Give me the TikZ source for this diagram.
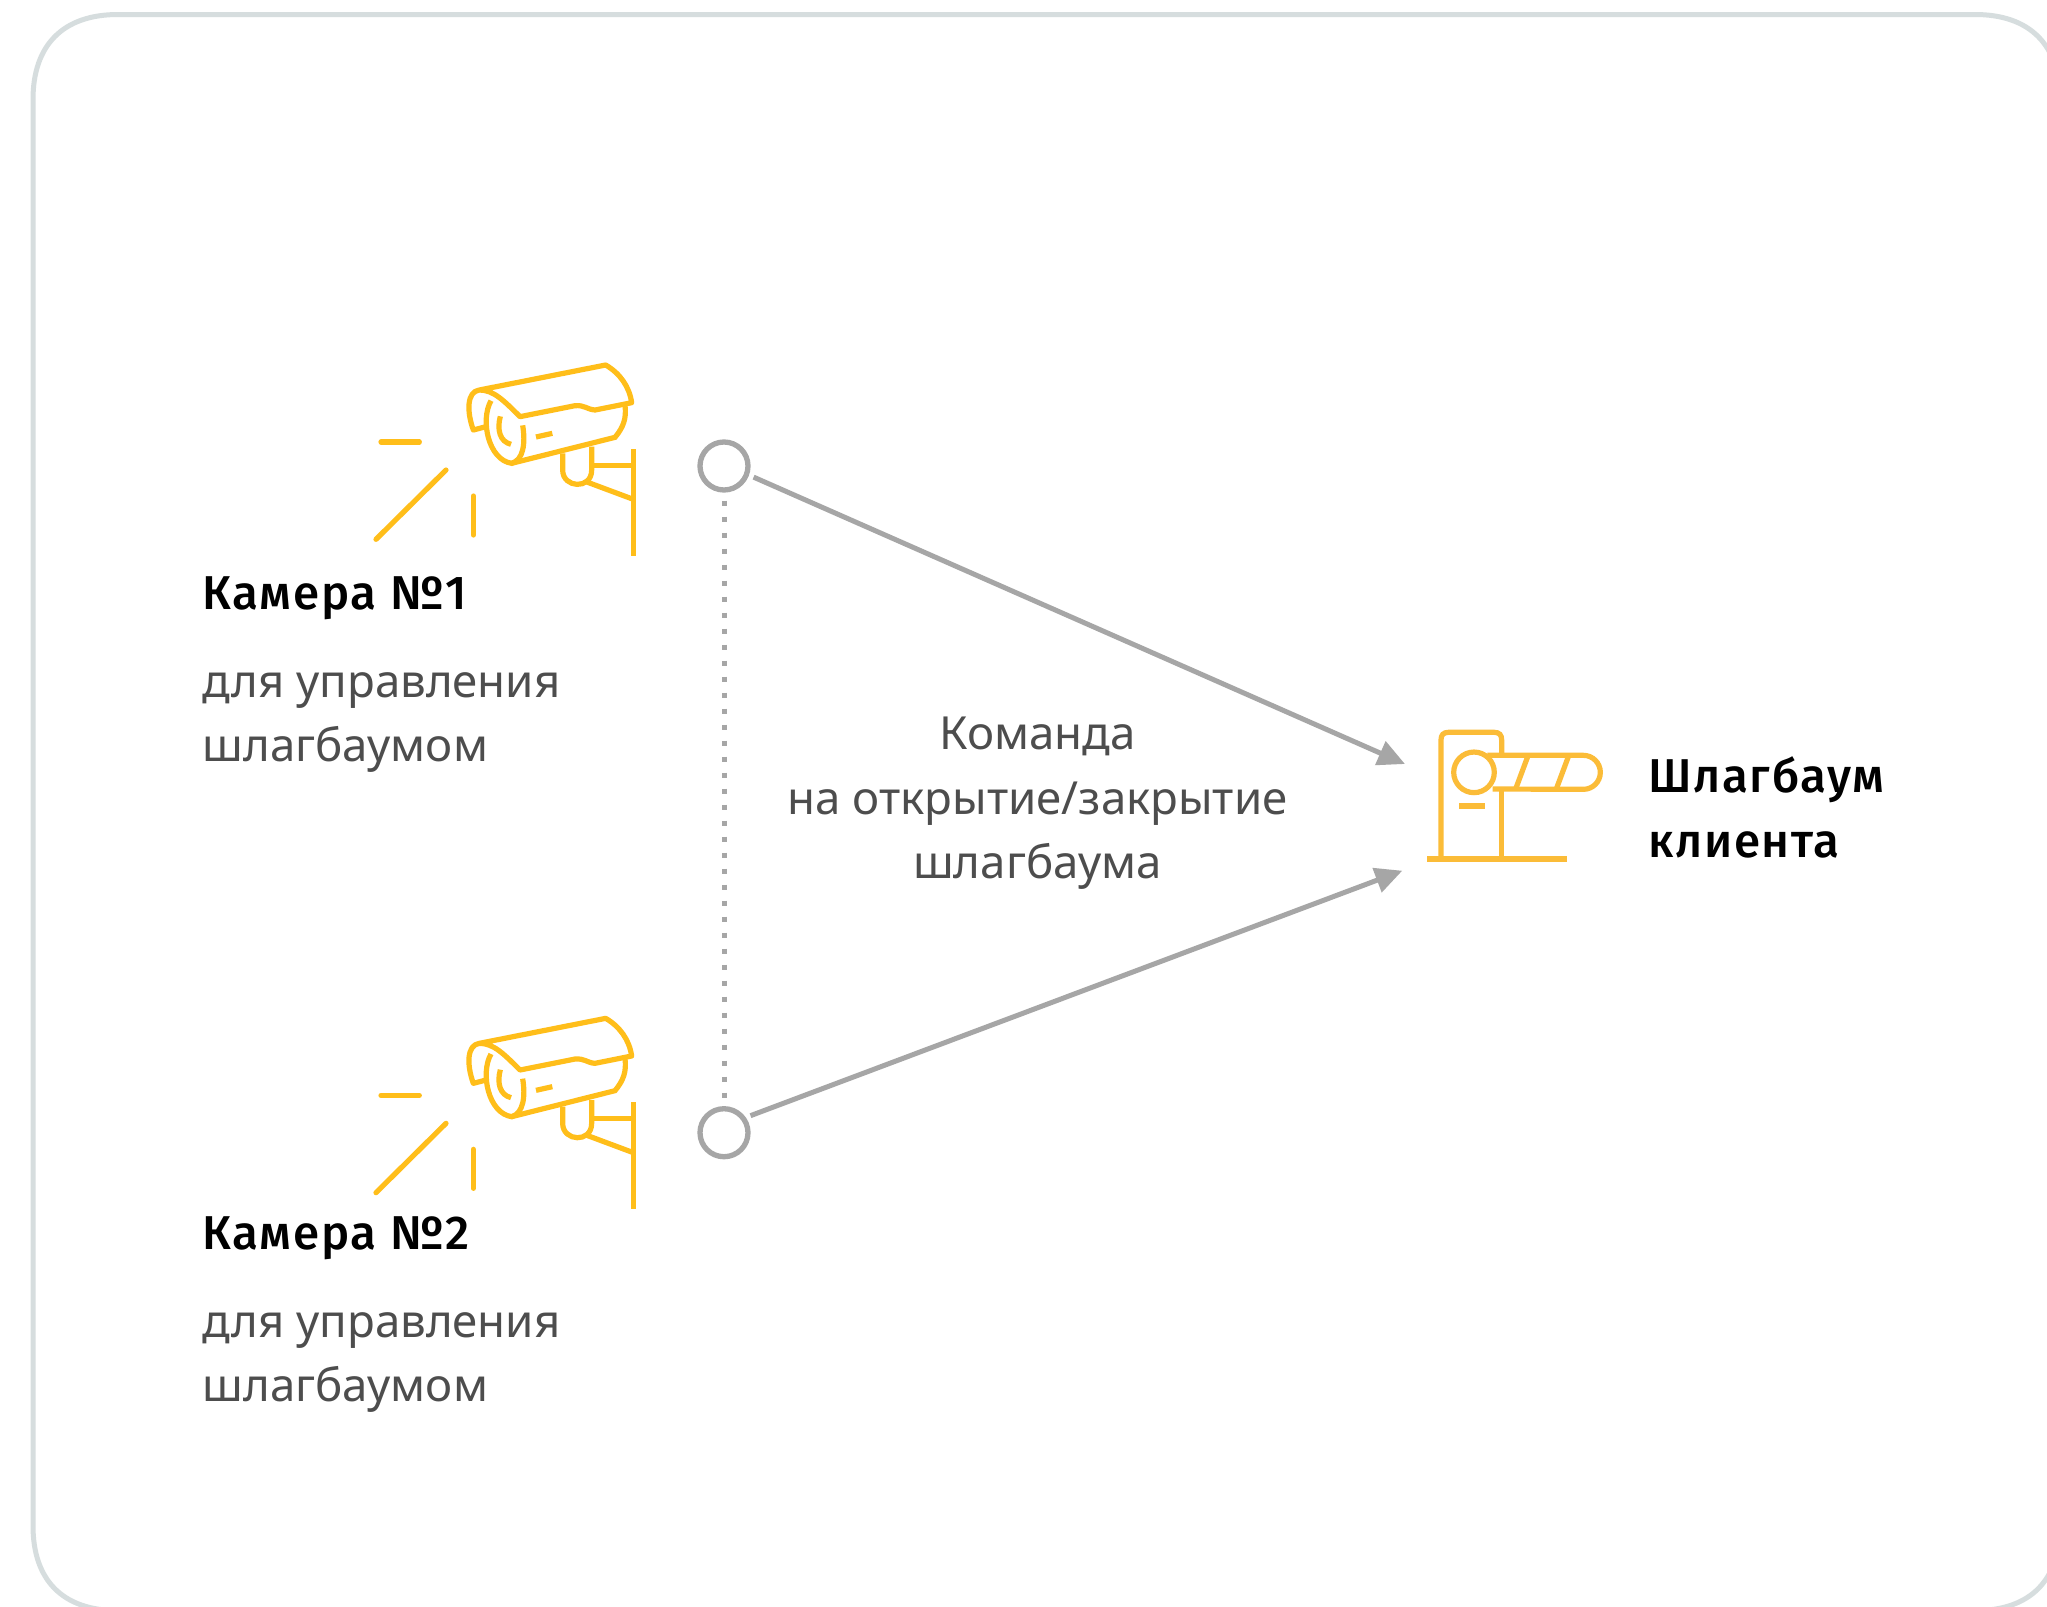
\documentclass[tikz,border=0pt]{standalone}
\usepackage{fontspec}
\setmainfont{Noto Sans}
\newfontfamily\medfont[LetterSpace=3.5]{Fira Sans Medium}
\usetikzlibrary{arrows.meta}
\definecolor{frameC}{HTML}{D6DDDE}
\definecolor{greyC}{HTML}{A6A6A6}
\definecolor{camC}{HTML}{FFBE1A}
\definecolor{barC}{HTML}{FBBC38}
\definecolor{txtC}{HTML}{4D4D4D}
\tikzset{
  frame/.style={draw=frameC,line width=5pt},
  dotnode/.style={circle,draw=greyC,line width=5.3pt,minimum size=48pt,inner sep=0pt},
  link/.style={draw=greyC,line width=5pt,-{Triangle[length=27pt,width=25pt]},shorten <=5pt},
  dots/.style={draw=greyC,line width=5pt,dash pattern=on 5pt off 11pt},
  camline/.style={draw=camC,line width=5.2pt},
  barline/.style={draw=barC,line width=5.2pt},
  title/.style={text=black,font=\medfont\fontsize{47.5}{64.3}\selectfont,align=left,inner sep=0pt},
  body/.style={text=txtC,font=\fontsize{45.6}{64.3}\selectfont,align=left,inner sep=0pt},
  bodyc/.style={body,align=center},
}
\newcommand{\cameraicon}[2]{%
\begin{scope}[shift={(#1,#2)},x=0.33333pt,y=-0.33333pt]
  \draw[camline,line join=round] (358,150) -- (737,75) .. controls (780,100) and (808,140) .. (815,188)
    -- (705,210) .. controls (680,208) and (675,195) .. (645,197) -- (480,230)
    .. controls (430,180) and (400,150) .. (358,150)
    .. controls (320,155) and (320,215) .. (340,270) -- (378,260);
  \draw[camline] (393,182) .. controls (360,240) and (385,360) .. (455,370)
    .. controls (490,360) and (497,310) .. (488,256);
  \draw[camline] (455,370) -- (765,292) .. controls (790,262) and (800,235) .. (795,196);
  \draw[camline] (421,229) .. controls (410,270) and (420,305) .. (453,313);
  \draw[camline] (528,291) -- (577,280);
  \draw[camline] (608,340) -- (608,390) .. controls (608,445) and (695,450) .. (695,390) -- (695,320);
  \draw[camline] (695,376) -- (820,376);
  \draw[camline] (678,425) -- (820,478);
  \draw[camline] (820,327) -- (820,647);
  \draw[camline,line cap=round] (63,306) -- (178,306);
  \draw[camline,line cap=round] (258,390) -- (48,598);
  \draw[camline,line cap=round] (340,468) -- (340,585);
\end{scope}}
\begin{document}
\begin{tikzpicture}[x=1pt,y=-1pt]
  \useasboundingbox (0,0) rectangle (2047,1606);
  \clip (0,0) rectangle (2047,1606);
  \fill[white] (0,0) rectangle (2047,1606);
  \draw[frame] (33,99.5) .. controls (33,45) and (63,14.5) .. (118,14.5)
    -- (1975,14.5) .. controls (2030,14.5) and (2060,45) .. (2060,99.5)
    -- (2060,1525.6) .. controls (2060,1580.6) and (2030,1610.6) .. (1975,1610.6)
    -- (118,1610.6) .. controls (63,1610.6) and (33,1580.6) .. (33,1525.6) -- cycle;

  \cameraicon{360}{340}
  \cameraicon{360}{993.33}

  \begin{scope}[shift={(1380,700)},x=0.33333pt,y=-0.33333pt]
    \draw[barline] (183,477) -- (183,120) .. controls (183,105) and (190,97) .. (205,97)
      -- (343,97) .. controls (358,97) and (365,105) .. (365,120) -- (365,160);
    \draw[barline] (365,272) -- (365,477);
    \draw[barline,line width=5.5pt] (142,477) -- (560,477);
    \draw[barline] (282,217) circle [radius=20.3pt];
    \draw[barline] (322,166) -- (610,166) arc[start angle=90,end angle=-90,radius=17pt] -- (338,267);
    \draw[barline] (443,170) -- (408,264);
    \draw[barline] (565,170) -- (530,264);
    \draw[barline] (238,318) -- (314,318);
  \end{scope}

  \node[dotnode] (c1) at (724,466) {};
  \node[dotnode] (c2) at (724,1132.7) {};
  \coordinate (t1) at (1405,764);
  \coordinate (t2) at (1402.3,870.7);
  \draw[dots,shorten <=8pt,shorten >=7.4pt] (c1) -- (c2);
  \draw[link] (c1.-20) -- (t1);
  \draw[link] (c2.35) -- (t2);

  \node[title,anchor=base west] (cam1) at (202,609.3) {Камера №1};
  \node[body,anchor=base west] (desc1) at (202.5,761.5) {для управления\\шлагбаумом};
  \node[title,anchor=base west] (cam2) at (202,1249.3) {Камера №2};
  \node[body,anchor=base west] (desc2) at (202.5,1401.5) {для управления\\шлагбаумом};
  \node[bodyc,anchor=base] (cmd) at (1037.5,878.5) {Команда\\на открытие/закрытие\\шлагбаума};
  \node[title,anchor=base west] (bar) at (1648,857) {Шлагбаум\\клиента};
\end{tikzpicture}
\end{document}
